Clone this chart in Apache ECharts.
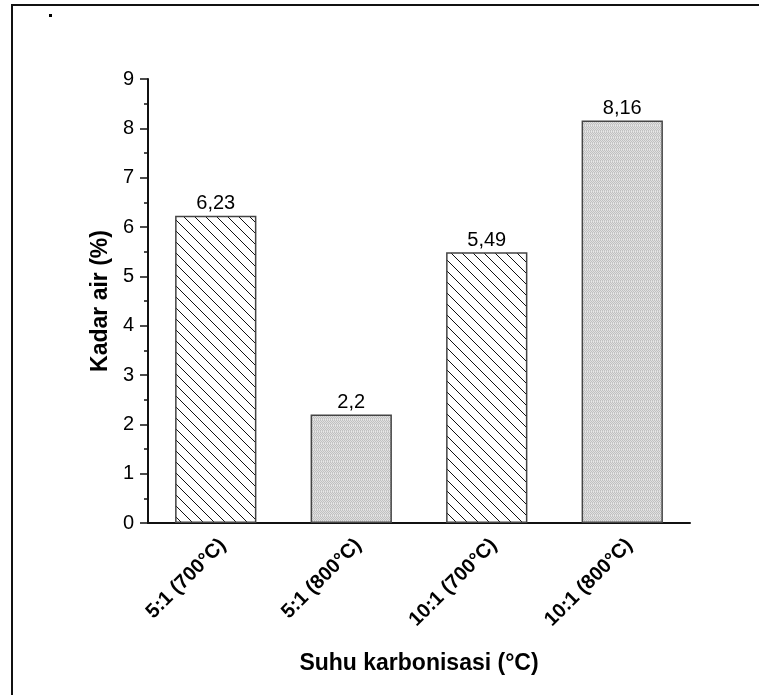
<!DOCTYPE html>
<html>
<head>
<meta charset="utf-8">
<script src="https://cdn.jsdelivr.net/npm/echarts@6/dist/echarts.min.js"></script>
<style>
  html, body { margin: 0; padding: 0; background: #fff; }
  #chart { width: 759px; height: 695px; }
</style>
</head>
<body>
<div id="chart"></div>
<script>
// data
const categories = ['5:1 (700°C)', '5:1 (800°C)', '10:1 (700°C)', '10:1 (800°C)']
const kadarAir = [6.23, 2.2, 5.49, 8.16]
const fills = ['hatch', 'dots', 'hatch', 'dots']

const FONT = 'Arial, "Liberation Sans", sans-serif'

// diagonal hatching tile "\"
function hatchTile() {
  const c = document.createElement('canvas')
  c.width = 11; c.height = 11
  const g = c.getContext('2d')
  g.fillStyle = '#fff'
  g.fillRect(0, 0, 11, 11)
  g.strokeStyle = '#111'
  g.lineWidth = 1
  g.beginPath()
  g.moveTo(-2, -2); g.lineTo(13, 13)
  g.moveTo(-2, 9); g.lineTo(2, 13)
  g.moveTo(9, -2); g.lineTo(13, 2)
  g.stroke()
  return c
}

// grey stipple tile
function dotTile() {
  const c = document.createElement('canvas')
  c.width = 4; c.height = 6
  const g = c.getContext('2d')
  for (let y = 0; y < 6; y++) {
    for (let x = 0; x < 4; x++) {
      g.fillStyle = ((x + y) % 2 === 0) ? '#c0c0c0' : '#e0e0e0'
      if (y === 5) g.fillStyle = ((x % 2) === 0) ? '#cacaca' : '#e8e8e8'
      g.fillRect(x, y, 1, 1)
    }
  }
  return c
}

const patterns = {
  hatch: { image: hatchTile(), repeat: 'repeat' },
  dots: { image: dotTile(), repeat: 'repeat' }
}

const chart = echarts.init(document.getElementById('chart'), null, { renderer: 'canvas' })

chart.setOption({
  animation: false,
  backgroundColor: '#fff',
  grid: { left: 148, right: 69, top: 79, bottom: 172 },
  graphic: [
    {
      type: 'rect',
      shape: { x: 12, y: 5, width: 800, height: 800 },
      style: { fill: 'none', stroke: '#111', lineWidth: 2 },
      silent: true
    },
    {
      type: 'rect',
      shape: { x: 49, y: 14, width: 3, height: 3 },
      style: { fill: '#000' },
      silent: true
    }
  ],
  xAxis: {
    type: 'category',
    data: categories,
    name: 'Suhu karbonisasi (°C)',
    nameLocation: 'middle',
    nameGap: 129,
    nameTextStyle: { fontFamily: FONT, fontSize: 23, fontWeight: 'bold', color: '#000' },
    axisLine: { lineStyle: { color: '#111', width: 2 } },
    axisTick: { alignWithLabel: true, length: 8, lineStyle: { color: '#111', width: 1.5 } },
    axisLabel: {
      rotate: 45,
      margin: 12,
      verticalAlign: 'top',
      fontFamily: FONT,
      fontSize: 20,
      fontWeight: 'bold',
      color: '#000'
    }
  },
  yAxis: {
    type: 'value',
    min: 0,
    max: 9,
    interval: 1,
    name: 'Kadar air (%)',
    nameLocation: 'middle',
    nameGap: 28,
    nameTextStyle: { fontFamily: FONT, fontSize: 23, fontWeight: 'bold', color: '#000' },
    axisLine: { show: true, lineStyle: { color: '#111', width: 2 } },
    axisTick: { show: true, length: 8, lineStyle: { color: '#111', width: 1.5 } },
    minorTick: { show: true, splitNumber: 2, length: 4, lineStyle: { color: '#111', width: 1.5 } },
    splitLine: { show: false },
    axisLabel: { margin: 14, fontFamily: FONT, fontSize: 20, color: '#000' }
  },
  series: [{
    type: 'bar',
    barWidth: '60%',
    data: kadarAir.map((v, i) => ({
      value: v,
      itemStyle: { color: patterns[fills[i]] }
    })),
    itemStyle: { borderColor: '#444', borderWidth: 1.5 },
    label: {
      show: true,
      position: 'top',
      distance: 2,
      fontFamily: FONT,
      fontSize: 20,
      color: '#000',
      formatter: p => String(p.value).replace('.', ',')
    }
  }]
})
</script>
</body>
</html>
